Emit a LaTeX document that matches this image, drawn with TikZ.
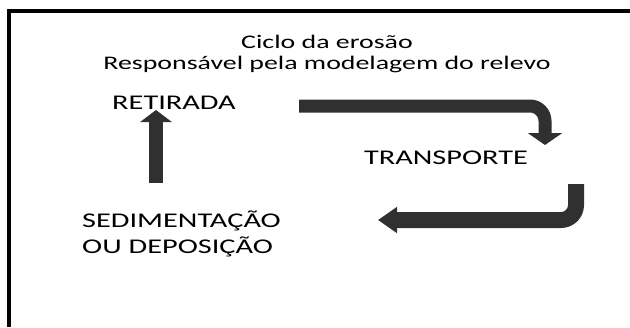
\documentclass[tikz,border=0pt]{standalone}
\usepackage{fontspec}
\setmainfont[FakeStretch=1.45]{Carlito}
\usetikzlibrary{arrows.meta}

\begin{document}
\begin{tikzpicture}[x=1bp,y=-1bp,
    rotulo/.style={inner sep=0pt,font=\fontsize{21}{26}\selectfont},
    seta/.style={draw=black!81,line width=#1,rounded corners=15bp}]
  \useasboundingbox (0,0) rectangle (630,327);
  % moldura
  \draw[line width=4bp] (9,327) -- (9,11) -- (630,11);
  \node (titulo) [rotulo,align=center,font=\fontsize{19.3}{21}\selectfont] at (327,54) {Ciclo da erosão\\Responsável pela modelagem do relevo};
  \node (retirada) [rotulo,anchor=base] at (174,109) {RETIRADA};
  \node (transporte) [rotulo,anchor=base] at (446,164) {TRANSPORTE};
  \node (sedimentacao) [rotulo,align=left,anchor=west] at (82,234) {SEDIMENTAÇÃO\\OU DEPOSIÇÃO};
  % pontas das setas
  \coordinate (ida) at (299,106);
  \coordinate (desce) at (545,145);
  \coordinate (volta) at (576,184);
  \coordinate (chega) at (378,220);
  \coordinate (sobe) at (156,183);
  \coordinate (topo) at (156,110);
  \draw[seta=13bp,-{Triangle[width=34bp,length=12bp]}] (ida) -| (desce);
  \draw[seta=16bp,-{Triangle[width=25bp,length=19bp]}] (volta) |- (chega);
  \draw[seta=14bp,-{Triangle[width=31bp,length=12bp]}] (sobe) -- (topo);
\end{tikzpicture}
\end{document}
